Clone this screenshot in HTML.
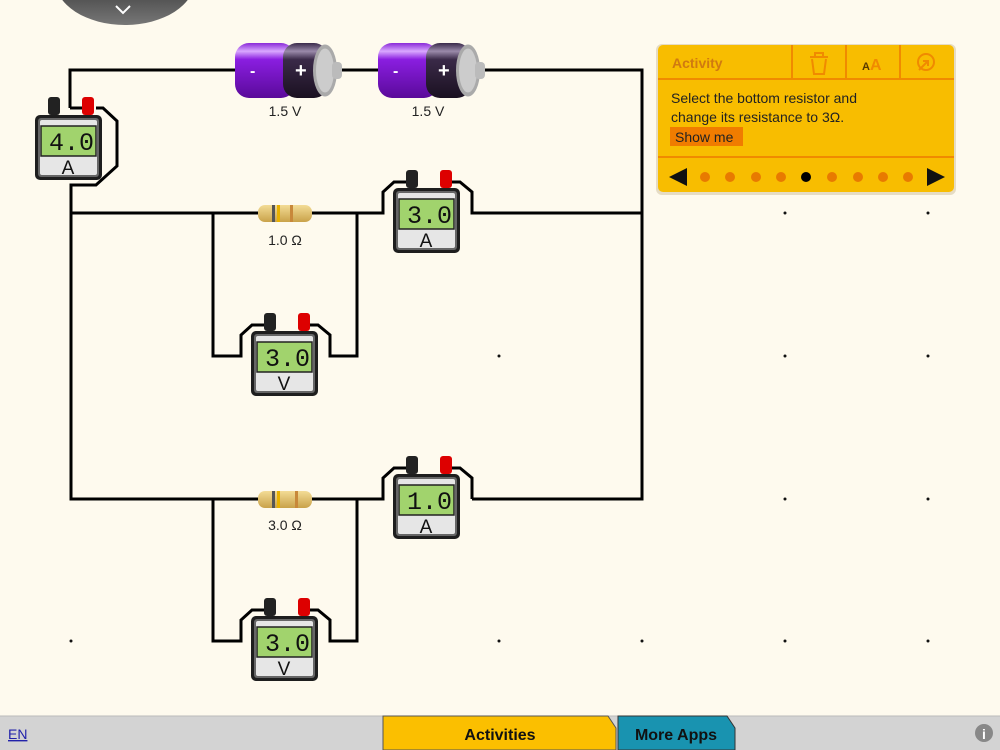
<!DOCTYPE html>
<html><head><meta charset="utf-8"><style>
body{margin:0;width:1000px;height:750px;overflow:hidden;background:#fefaee;font-family:"Liberation Sans",sans-serif}
svg{position:absolute;left:0;top:0}
</style></head><body>
<svg width="1000" height="750" viewBox="0 0 1000 750">
<defs>
<linearGradient id="bat" x1="0" y1="0" x2="0" y2="1"><stop offset="0" stop-color="#8a2ad8"/><stop offset="0.15" stop-color="#d9a8ff"/><stop offset="0.3" stop-color="#8a1ee0"/><stop offset="1" stop-color="#5a0a9a"/></linearGradient>
<linearGradient id="batd" x1="0" y1="0" x2="0" y2="1"><stop offset="0" stop-color="#3a2a4a"/><stop offset="0.15" stop-color="#9a8aaa"/><stop offset="0.3" stop-color="#3a2a48"/><stop offset="1" stop-color="#1a1020"/></linearGradient>
<linearGradient id="res" x1="0" y1="0" x2="0" y2="1"><stop offset="0" stop-color="#f3dc96"/><stop offset="1" stop-color="#c9a24a"/></linearGradient>
<linearGradient id="gray" x1="0" y1="0" x2="0" y2="1"><stop offset="0" stop-color="#3a3a3a"/><stop offset="1" stop-color="#777"/></linearGradient>
<g id="meter">
<rect x="13" y="-18" width="12" height="18" rx="3" fill="#222"/>
<rect x="47" y="-18" width="12" height="18" rx="3" fill="#d00"/>
<rect x="0" y="0" width="67" height="65" rx="5" fill="#1e1e1e"/>
<rect x="3" y="3" width="61" height="59" rx="3" fill="#666"/>
<rect x="5" y="5" width="57" height="55" rx="2" fill="#e6e6e6"/>
<rect x="6" y="11" width="55" height="30" fill="#a1d36d" stroke="#222" stroke-width="1.5"/>
</g>
<g id="bat1">
<rect x="0" y="0" width="60" height="55" rx="14" fill="url(#bat)"/>
<rect x="48" y="0" width="45" height="55" rx="14" fill="url(#batd)"/>
<ellipse cx="90" cy="27.5" rx="12" ry="26" fill="#aaa"/>
<ellipse cx="90" cy="27.5" rx="9" ry="22" fill="#ccc"/>
<rect x="97" y="19" width="10" height="17" rx="4" fill="#bbb"/>
<text x="15" y="33" fill="#fff" font-size="16" font-weight="bold">-</text>
<text x="60" y="34" fill="#fff" font-size="20" font-weight="bold">+</text>
</g>
</defs>
<path d="M55 -20 A70 45 0 0 0 195 -20 Z" fill="url(#gray)"/>
<path d="M116 6 L123 13 L130 6" stroke="#fff" stroke-width="2" fill="none"/>
<g stroke="#000" stroke-width="3" fill="none">
<path d="M70 108 V70 H642 V499 H472"/>
<path d="M70 108 H82"/>
<path d="M96 108 H103 L117 121 V166 L96 185 H71 V499 H383"/>
<path d="M70 213 H383 V192 L394 182 H412"/>
<path d="M445 182 H460 L472 192 V213 H642"/>
<path d="M70 499 H383 V478 L394 468 H412"/>
<path d="M445 468 H460 L472 478 V499"/>
<path d="M213 213 V356 H241 V335 L252 325 H270"/>
<path d="M303 325 H318 L330 335 V356 H357 V213"/>
<path d="M213 499 V641 H241 V620 L252 610 H270"/>
<path d="M303 610 H318 L330 620 V641 H357 V499"/>
</g>
<use href="#bat1" x="235" y="43"/>
<use href="#bat1" x="378" y="43"/>
<text x="285" y="116" font-size="14" text-anchor="middle" fill="#222">1.5 V</text>
<text x="428" y="116" font-size="14" text-anchor="middle" fill="#222">1.5 V</text>
<g><rect x="258" y="205" width="54" height="17" rx="7" fill="url(#res)"/><rect x="272" y="205" width="3" height="17" fill="#555"/><rect x="277" y="205" width="3" height="17" fill="#e8b000"/><rect x="290" y="205" width="3" height="17" fill="#c8883a"/></g>
<g><rect x="258" y="491" width="54" height="17" rx="7" fill="url(#res)"/><rect x="272" y="491" width="3" height="17" fill="#555"/><rect x="277" y="491" width="3" height="17" fill="#e8b000"/><rect x="295" y="491" width="3" height="17" fill="#c8883a"/></g>
<text x="285" y="245" font-size="14" text-anchor="middle" fill="#222">1.0 Ω</text>
<text x="285" y="530" font-size="14" text-anchor="middle" fill="#222">3.0 Ω</text>
<use href="#meter" x="35" y="115"/>
<use href="#meter" x="393" y="188"/>
<use href="#meter" x="393" y="474"/>
<use href="#meter" x="251" y="331"/>
<use href="#meter" x="251" y="616"/>
<g font-family="Liberation Mono,monospace" font-size="25" text-anchor="end" fill="#111">
<text x="94" y="150">4.0</text><text x="452" y="223">3.0</text><text x="452" y="509">1.0</text><text x="310" y="366">3.0</text><text x="310" y="651">3.0</text>
</g>
<g font-size="19" text-anchor="middle" fill="#111">
<text x="68" y="174">A</text><text x="426" y="247">A</text><text x="426" y="533">A</text><text x="284" y="390">V</text><text x="284" y="675">V</text>
</g>
<g fill="#111">
<circle cx="785" cy="213" r="1.5"/><circle cx="928" cy="213" r="1.5"/><circle cx="499" cy="356" r="1.5"/><circle cx="785" cy="356" r="1.5"/><circle cx="928" cy="356" r="1.5"/><circle cx="785" cy="499" r="1.5"/><circle cx="928" cy="499" r="1.5"/><circle cx="71" cy="641" r="1.5"/><circle cx="499" cy="641" r="1.5"/><circle cx="642" cy="641" r="1.5"/><circle cx="785" cy="641" r="1.5"/><circle cx="928" cy="641" r="1.5"/>
</g>
<rect x="656" y="44" width="300" height="151" rx="6" fill="#e6dcc4"/>
<rect x="658" y="45" width="296" height="147" rx="5" fill="#f8bd00"/>
<g stroke="#f08a00" stroke-width="2"><line x1="658" y1="79" x2="954" y2="79"/><line x1="658" y1="157" x2="954" y2="157"/><line x1="792" y1="45" x2="792" y2="79"/><line x1="846" y1="45" x2="846" y2="79"/><line x1="900" y1="45" x2="900" y2="79"/></g>
<text x="672" y="68" font-size="14" font-weight="bold" fill="#d07a10">Activity</text>
<g stroke="#f08a00" stroke-width="2" fill="none"><path d="M810 57 H828 M815 57 V53 H823 V57 M812 59 L814 74 H824 L826 59"/><circle cx="926" cy="62" r="8"/><path d="M919 70 L928 61 M923 61 H928 V66"/></g>
<text x="862" y="70" font-size="11" font-weight="bold" fill="#5a3a00">A</text><text x="870" y="70" font-size="16" font-weight="bold" fill="#f08a00">A</text>
<text x="671" y="103" font-size="14" fill="#222">Select the bottom resistor and</text>
<text x="671" y="122" font-size="14" fill="#222">change its resistance to 3Ω.</text>
<rect x="670" y="127" width="73" height="19" fill="#f07c00"/>
<text x="675" y="142" font-size="14" fill="#222">Show me</text>
<path d="M669 177 L687 168 V186 Z" fill="#111"/><path d="M945 177 L927 168 V186 Z" fill="#111"/>
<g fill="#e87a00"><circle cx="705" cy="177" r="5"/><circle cx="730" cy="177" r="5"/><circle cx="756" cy="177" r="5"/><circle cx="781" cy="177" r="5"/><circle cx="832" cy="177" r="5"/><circle cx="858" cy="177" r="5"/><circle cx="883" cy="177" r="5"/><circle cx="908" cy="177" r="5"/></g>
<circle cx="806" cy="177" r="5" fill="#000"/>
<rect x="0" y="716" width="1000" height="34" fill="#d3d3d3"/>
<line x1="0" y1="716" x2="1000" y2="716" stroke="#bbb"/>
<path d="M383 750 V716 H608 L616 728 V750 Z" fill="#fbbf00" stroke="#555"/>
<path d="M618 750 V716 H727 L735 728 V750 Z" fill="#1993b0" stroke="#333"/>
<text x="500" y="740" font-size="16" font-weight="bold" text-anchor="middle" fill="#111">Activities</text>
<text x="676" y="740" font-size="16" font-weight="bold" text-anchor="middle" fill="#111">More Apps</text>
<text x="8" y="739" font-size="14" fill="#22a" text-decoration="underline">EN</text>
<circle cx="984" cy="733" r="9" fill="#888"/><text x="984" y="739" font-size="14" font-weight="bold" text-anchor="middle" fill="#fff">i</text>
</svg>
</body></html>
